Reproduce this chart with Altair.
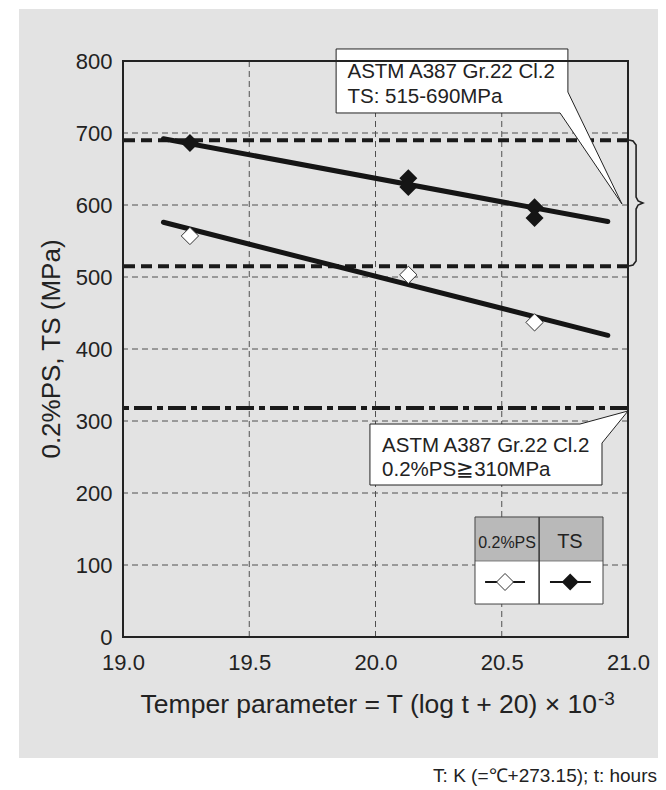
import altair as alt
import pandas as pd

FONT = "Liberation Sans"
INK = "#222222"

# ---- data ----
ts_x = [19.265, 20.13, 20.13, 20.63, 20.63]
ts_y = [686, 637, 625, 597, 582]
ps_x = [19.265, 20.13, 20.63]
ps_y = [557, 503, 437]
fit_x = [19.16, 20.92]
ts_fit_y = [692, 577]
ps_fit_y = [576, 419]
ts_spec = [690, 515]          # TS: 515-690 MPa
ps_spec = [318]               # 0.2%PS >= 310 MPa line as drawn
x_ticks = [19.0, 19.5, 20.0, 20.5, 21.0]
y_ticks = [0, 100, 200, 300, 400, 500, 600, 700, 800]
x_grid = [19.5, 20.0, 20.5]
y_grid = [100, 200, 300, 400, 500, 600, 700]

# ---- annotation geometry (data units) ----
call1_x = [19.844, 20.762, 20.762, 20.976, 20.731, 19.844, 19.844]
call1_y = [816.7, 816.7, 756.9, 601.4, 727.8, 727.8, 816.7]
call2_x = [19.978, 20.810, 21.0, 20.897, 20.897, 19.978, 19.978]
call2_y = [295.8, 295.8, 313.9, 269.4, 211.1, 211.1, 295.8]
brace_x = [21.004, 21.020, 21.032, 21.032, 21.040, 21.059, 21.040, 21.032, 21.032, 21.020, 21.004]
brace_y = [690.3, 688.9, 683.3, 611.1, 605.6, 602.8, 600.0, 594.4, 522.2, 516.7, 515.3]
call1_text = ["ASTM A387 Gr.22 Cl.2", "TS: 515-690MPa"]
call1_tx = [19.889, 19.889]
call1_ty = [776.8, 741.7]
call2_text = ["ASTM A387 Gr.22 Cl.2", "0.2%PS\u2267310MPa"]
call2_tx = [20.026, 20.026]
call2_ty = [257.6, 223.6]

leg_x = [20.394, 20.648, 20.901]
leg_y = [45.8, 105.6, 166.7]
leg_labels = ["0.2%PS", "TS"]
leg_label_x = [20.521, 20.770]
leg_label_y = 123.6
leg_sym_y = 76.4
leg_ps_line = [20.434, 20.592]
leg_ts_line = [20.691, 20.853]
leg_sym_x = [20.513, 20.771]

xs = alt.Scale(domain=[19, 21], nice=False, zero=False)
ys = alt.Scale(domain=[0, 800], nice=False, zero=False)
xaxis = alt.Axis(values=x_ticks, format=".1f", title=None, domain=False, ticks=False,
                 tickSize=0, grid=False, labelFontSize=22, labelFont=FONT, labelColor=INK,
                 labelPadding=15, zindex=1, labelFlush=False, labelOverlap=False)
yaxis = alt.Axis(values=y_ticks, format="d", title=None, domain=False, ticks=False,
                 tickSize=0, grid=False, labelFontSize=22, labelFont=FONT, labelColor=INK,
                 labelPadding=11, zindex=1, labelOverlap=False)


def X(f):
    return alt.X(f, type="quantitative", scale=xs, axis=xaxis)


def Y(f):
    return alt.Y(f, type="quantitative", scale=ys, axis=yaxis)


one = pd.DataFrame({"d": [0]})

bg = alt.Chart(one).mark_rect(color="#e3e3e3").encode(
    x=alt.value(-104), x2=alt.value(535), y=alt.value(-52), y2=alt.value(697))

hgrid = alt.Chart(pd.DataFrame({"y": y_grid})).mark_rule(
    color="#505050", strokeWidth=1, strokeDash=[6, 4]).encode(y=Y("y"))
vgrid = alt.Chart(pd.DataFrame({"x": x_grid})).mark_rule(
    color="#505050", strokeWidth=1, strokeDash=[6, 4]).encode(x=X("x"))

ts_ref = alt.Chart(pd.DataFrame({"y": ts_spec})).mark_rule(
    color="#1a1a1a", strokeWidth=4, strokeDash=[11, 6]).encode(y=Y("y"))
ps_ref = alt.Chart(pd.DataFrame({"y": ps_spec})).mark_rule(
    color="#1a1a1a", strokeWidth=4, strokeDash=[18, 5, 6, 5]).encode(y=Y("y"))

fits = pd.DataFrame({
    "x": fit_x + fit_x,
    "y": ts_fit_y + ps_fit_y,
    "s": ["TS"] * 2 + ["PS"] * 2,
})
fit_lines = alt.Chart(fits).mark_line(color="#151515", strokeWidth=5, strokeCap="round").encode(
    x=X("x"), y=Y("y"), detail="s:N")

ts_pts = alt.Chart(pd.DataFrame({"x": ts_x, "y": ts_y})).mark_point(
    shape="diamond", filled=True, color="#151515", size=324, opacity=1).encode(x=X("x"), y=Y("y"))
ps_pts = alt.Chart(pd.DataFrame({"x": ps_x, "y": ps_y})).mark_point(
    shape="diamond", filled=True, fill="white", stroke="#333333", strokeWidth=1,
    size=300, opacity=1).encode(x=X("x"), y=Y("y"))

brace = alt.Chart(pd.DataFrame({"x": brace_x, "y": brace_y, "i": list(range(len(brace_x)))})).mark_line(
    color="#222222", strokeWidth=1.6).encode(x=X("x"), y=Y("y"), order="i:Q")

c1 = alt.Chart(pd.DataFrame({"x": call1_x, "y": call1_y, "i": list(range(len(call1_x)))})).mark_line(
    fill="white", stroke="#222222", strokeWidth=1).encode(x=X("x"), y=Y("y"), order="i:Q")
c2 = alt.Chart(pd.DataFrame({"x": call2_x, "y": call2_y, "i": list(range(len(call2_x)))})).mark_line(
    fill="white", stroke="#222222", strokeWidth=1).encode(x=X("x"), y=Y("y"), order="i:Q")

t1 = alt.Chart(pd.DataFrame({"x": call1_tx, "y": call1_ty, "t": call1_text})).mark_text(
    font=FONT, fontSize=20.5, color=INK, align="left", baseline="alphabetic").encode(
    x=X("x"), y=Y("y"), text="t:N")
t2 = alt.Chart(pd.DataFrame({"x": call2_tx, "y": call2_ty, "t": call2_text})).mark_text(
    font=FONT, fontSize=20.5, color=INK, align="left", baseline="alphabetic").encode(
    x=X("x"), y=Y("y"), text="t:N")

# legend table
leg_head = alt.Chart(pd.DataFrame({"x": [leg_x[0]], "x2": [leg_x[2]], "y": [leg_y[1]], "y2": [leg_y[2]]})).mark_rect(
    color="#b9b9b9").encode(x=X("x"), x2="x2", y=Y("y"), y2="y2")
leg_body = alt.Chart(pd.DataFrame({"x": [leg_x[0]], "x2": [leg_x[2]], "y": [leg_y[0]], "y2": [leg_y[1]]})).mark_rect(
    color="white").encode(x=X("x"), x2="x2", y=Y("y"), y2="y2")
leg_box = alt.Chart(pd.DataFrame({"x": [leg_x[0]], "x2": [leg_x[2]], "y": [leg_y[0]], "y2": [leg_y[2]]})).mark_rect(
    filled=False, stroke="#444444", strokeWidth=1).encode(x=X("x"), x2="x2", y=Y("y"), y2="y2")
leg_div = alt.Chart(pd.DataFrame({"x": [leg_x[1]], "y": [leg_y[0]], "y2": [leg_y[2]]})).mark_rule(
    color="#333333", strokeWidth=1.5).encode(x=X("x"), y=Y("y"), y2="y2")
leg_mid = alt.Chart(pd.DataFrame({"x": [leg_x[0]], "x2": [leg_x[2]], "y": [leg_y[1]]})).mark_rule(
    color="#777777", strokeWidth=1).encode(x=X("x"), x2="x2", y=Y("y"))
leg_t1 = alt.Chart(pd.DataFrame({"x": [leg_label_x[0]], "y": [leg_label_y], "t": [leg_labels[0]]})).mark_text(
    font=FONT, fontSize=16, color=INK, align="center", baseline="alphabetic").encode(
    x=X("x"), y=Y("y"), text="t:N")
leg_t2 = alt.Chart(pd.DataFrame({"x": [leg_label_x[1]], "y": [leg_label_y], "t": [leg_labels[1]]})).mark_text(
    font=FONT, fontSize=20, color=INK, align="center", baseline="alphabetic").encode(
    x=X("x"), y=Y("y"), text="t:N")
leg_lines = alt.Chart(pd.DataFrame({
    "x": [leg_ps_line[0], leg_ts_line[0]], "x2": [leg_ps_line[1], leg_ts_line[1]],
    "y": [leg_sym_y, leg_sym_y]})).mark_rule(color="#151515", strokeWidth=2).encode(
    x=X("x"), x2="x2", y=Y("y"))
leg_ps = alt.Chart(pd.DataFrame({"x": [leg_sym_x[0]], "y": [leg_sym_y]})).mark_point(
    shape="diamond", filled=True, fill="white", stroke="#333333", strokeWidth=1, size=289, opacity=1).encode(
    x=X("x"), y=Y("y"))
leg_ts = alt.Chart(pd.DataFrame({"x": [leg_sym_x[1]], "y": [leg_sym_y]})).mark_point(
    shape="diamond", filled=True, color="#151515", size=289, opacity=1).encode(
    x=X("x"), y=Y("y"))

frame = alt.Chart(pd.DataFrame({"x": [19], "x2": [21], "y": [0], "y2": [800]})).mark_rect(
    filled=False, stroke="#222222", strokeWidth=2).encode(x=X("x"), x2="x2", y=Y("y"), y2="y2")

xtitle = alt.Chart(one).mark_text(font=FONT, fontSize=26.5, color=INK, align="right",
                                  baseline="alphabetic", text="Temper parameter = T (log t + 20) \u00d7 10").encode(
    x=alt.value(474), y=alt.value(652))
xsup = alt.Chart(one).mark_text(font=FONT, fontSize=19, color=INK, align="left",
                                baseline="alphabetic", text="-3").encode(
    x=alt.value(475), y=alt.value(644))
ytitle = alt.Chart(one).mark_text(font=FONT, fontSize=26, color=INK, align="center",
                                  baseline="alphabetic", angle=270, text="0.2%PS, TS (MPa)").encode(
    x=alt.value(-63.5), y=alt.value(288))
note = alt.Chart(one).mark_text(font=FONT, fontSize=19, color=INK, align="right",
                                baseline="alphabetic", text="T: K (=\u2103+273.15); t: hours").encode(
    x=alt.value(534), y=alt.value(721))

chart = alt.layer(
    bg, hgrid, vgrid, ts_ref, ps_ref, fit_lines, ts_pts, ps_pts, brace,
    c1, c2, t1, t2,
    leg_head, leg_body, leg_mid, leg_div, leg_box, leg_t1, leg_t2, leg_lines, leg_ps, leg_ts,
    frame, xtitle, xsup, ytitle, note
).properties(
    width=505, height=576,
    padding={"left": 115, "top": 53, "right": 30, "bottom": 149},
    autosize=alt.AutoSizeParams(type="none"),
    background="white",
).configure_view(stroke=None)

chart.save("out.html", embed_options={"renderer": "svg", "actions": False})
